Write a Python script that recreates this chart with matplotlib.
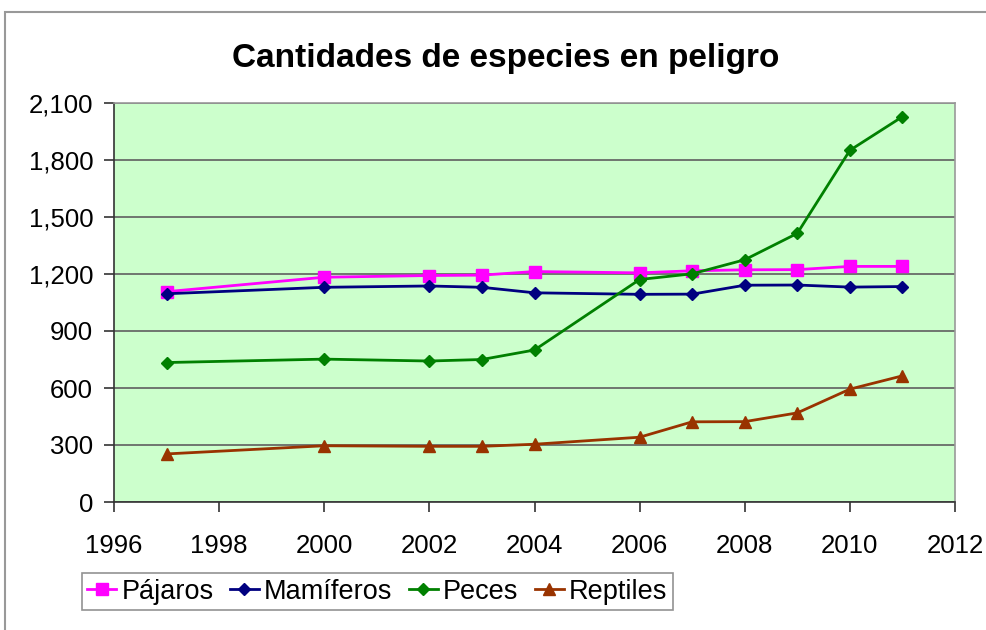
import matplotlib
matplotlib.use("Agg")
import matplotlib.pyplot as plt
from matplotlib.patches import Rectangle
from matplotlib.ticker import FuncFormatter, MultipleLocator

years = [1997, 2000, 2002, 2003, 2004, 2006, 2007, 2008, 2009, 2010, 2011]
pajaros = [1107, 1183, 1192, 1194, 1213, 1206, 1217, 1222, 1223, 1240, 1240]
mamiferos = [1096, 1130, 1137, 1130, 1101, 1093, 1094, 1141, 1142, 1131, 1134]
peces = [734, 752, 742, 750, 800, 1171, 1201, 1275, 1414, 1851, 2028]
reptiles = [253, 296, 293, 293, 304, 341, 422, 423, 469, 594, 664]

series = [
    ("Pájaros", pajaros, "#FF00FF", "s", 8),
    ("Mamíferos", mamiferos, "#000080", "D", 6.5),
    ("Peces", peces, "#008000", "D", 6.5),
    ("Reptiles", reptiles, "#993300", "^", 8),
]

plt.rcParams['font.family'] = ['Liberation Sans', 'DejaVu Sans']

W, H = 987, 630
fig = plt.figure(figsize=(W / 100, H / 100), dpi=100)
fig.patch.set_facecolor("white")

# outer chart border
fig.add_artist(Rectangle((5 / W, -0.1), 1.2, (H - 12) / H + 0.1,
                         transform=fig.transFigure, fill=False,
                         edgecolor="#999999", linewidth=1.5))

ax = fig.add_axes([114 / W, 1 - 502 / H, (955 - 114) / W, (502 - 103) / H])
ax.set_facecolor("#CCFFCC")

for name, vals, col, mk, ms in series:
    ax.plot(years, vals, color=col, marker=mk, markersize=ms, linewidth=2,
            markerfacecolor=col, markeredgecolor=col, label=name, zorder=3)

ax.set_xlim(1996, 2012)
ax.set_ylim(0, 2100)
ax.xaxis.set_major_locator(MultipleLocator(2))
ax.yaxis.set_major_locator(MultipleLocator(300))
ax.yaxis.set_major_formatter(FuncFormatter(lambda v, p: f"{int(v):,}"))
ax.grid(axis="y", color="#5f5f5f", linewidth=1.2, zorder=1)
ax.set_axisbelow(True)

for s in ["top", "right"]:
    ax.spines[s].set_color("#999999")
    ax.spines[s].set_linewidth(1.2)
ax.spines["left"].set_color("#333333")
ax.spines["bottom"].set_color("#333333")
ax.spines["left"].set_linewidth(1.2)
ax.spines["bottom"].set_linewidth(1.2)

ax.tick_params(axis="both", direction="out", length=7, width=1.2, color="#333333",
               labelsize=18.5)
ax.tick_params(axis="x", pad=16)
ax.tick_params(axis="y", pad=8)

fig.text(0.5127, 1 - 58 / H, "Cantidades de especies en peligro", ha="center",
         va="center", fontsize=24, fontweight="bold")

leg = fig.legend(loc="lower left", bbox_to_anchor=(82 / W, 1 - 610 / H),
                 ncol=4, fontsize=19.5, frameon=True, fancybox=False,
                 borderaxespad=0, handlelength=1.05, handletextpad=0.2,
                 columnspacing=0.62, borderpad=0.2, edgecolor="#777777")
leg.get_frame().set_linewidth(1.2)

fig.savefig("out.png", dpi=100)
